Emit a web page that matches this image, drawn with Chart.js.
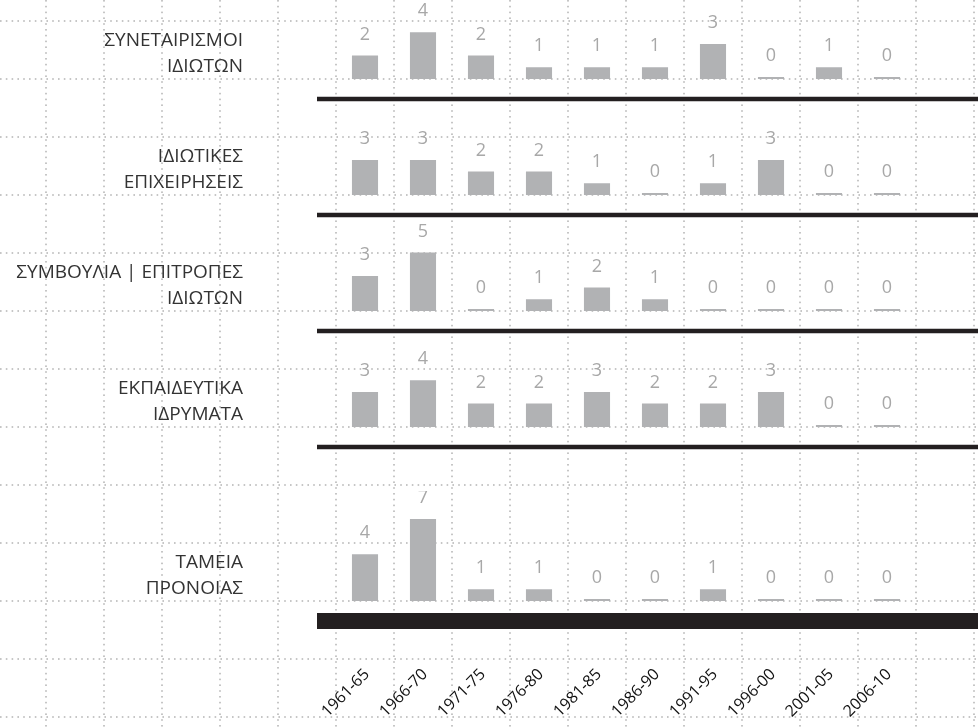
<!DOCTYPE html>
<html>
<head>
<meta charset="utf-8">
<script src="https://cdn.jsdelivr.net/npm/chart.js@4"></script>
<style>
    body { margin: 0; background: #fff; }
    #page { position: relative; width: 978px; height: 727px; overflow: hidden; background: #fff; }
    #page canvas { position: absolute; left: 0; }
</style>
</head>
<body>
<div id="page">
    <canvas id="grid" width="978" height="727" style="top:0"></canvas>
</div>
<script>
// --- Data ---
const periods = ['1961-65', '1966-70', '1971-75', '1976-80', '1981-85', '1986-90', '1991-95', '1996-00', '2001-05', '2006-10'];
const rowLabels = [
    ['ΣΥΝΕΤΑΙΡΙΣΜΟΙ', 'ΙΔΙΩΤΩΝ'],
    ['ΙΔΙΩΤΙΚΕΣ', 'ΕΠΙΧΕΙΡΗΣΕΙΣ'],
    ['ΣΥΜΒΟΥΛΙΑ | ΕΠΙΤΡΟΠΕΣ', 'ΙΔΙΩΤΩΝ'],
    ['ΕΚΠΑΙΔΕΥΤΙΚΑ', 'ΙΔΡΥΜΑΤΑ'],
    ['ΤΑΜΕΙΑ', 'ΠΡΟΝΟΙΑΣ']
];
const cooperatives = [2, 4, 2, 1, 1, 1, 3, 0, 1, 0];
const privateCompanies = [3, 3, 2, 2, 1, 0, 1, 3, 0, 0];
const councils = [3, 5, 0, 1, 2, 1, 0, 0, 0, 0];
const schools = [3, 4, 2, 2, 3, 2, 2, 3, 0, 0];
const pensionFunds = [4, 7, 1, 1, 0, 0, 1, 0, 0, 0];
const rowValues = [cooperatives, privateCompanies, councils, schools, pensionFunds];

// --- Layout ---
const W = 978, H = 727;
const CELL = 58;
const rowBase = [79, 195, 311, 427, 601];   // baseline of each row (px)
const Y_MAX = 8;                             // 8 units ≈ 93.6px
const UNIT = 11.7;
const ABOVE = 110;                           // canvas space above baseline
const FONT = '"Open Sans", "Noto Sans", sans-serif';

// --- Dotted background grid ---
(function drawGrid() {
    const g = document.getElementById('grid').getContext('2d');
    g.fillStyle = '#b9b9b9';
    for (let x = 46; x < W; x += CELL) {
        for (let y = 0; y < H; y += 5.8) g.fillRect(x - 0.8, y, 1.6, 1.6);
    }
    for (let y = 21; y < H; y += CELL) {
        for (let x = 0; x < W; x += 5.8) g.fillRect(x, y - 0.8, 1.6, 1.6);
    }
})();

// --- Plugin: row label, value labels, black rule ---
const rowDecor = {
    id: 'rowDecor',
    afterDatasetsDraw(chart, args, opts) {
        const c = chart.ctx;
        const base = chart.chartArea.bottom;
        c.save();
        // black rule under the row
        c.fillStyle = '#231f20';
        c.fillRect(317, base + 20 - opts.rule / 2, W - 317, opts.rule);
        // row name
        c.fillStyle = '#333';
        c.font = '19px ' + FONT;
        c.textAlign = 'right';
        c.textBaseline = 'middle';
        c.fillText(opts.label[0], 243, base - 38);
        c.fillText(opts.label[1], 243, base - 12);
        // value labels
        c.fillStyle = '#a8a8a8';
        c.font = '18px ' + FONT;
        c.textAlign = 'center';
        const meta = chart.getDatasetMeta(0);
        meta.data.forEach((bar, i) => {
            c.fillText(String(chart.data.datasets[0].data[i]), bar.x, bar.y - 21);
        });
        c.restore();
    }
};

rowValues.forEach((values, r) => {
    const last = r === rowValues.length - 1;
    const cv = document.createElement('canvas');
    const top = rowBase[r] - ABOVE;
    const height = last ? H - top : 140;
    cv.width = W;
    cv.height = height;
    cv.style.top = top + 'px';
    cv.style.width = W + 'px';
    cv.style.height = height + 'px';
    document.getElementById('page').appendChild(cv);

    const xScale = {
        display: last,
        grid: { display: false, drawTicks: false },
        border: { display: false },
        ticks: {
            color: '#111',
            font: { family: FONT, size: 16 },
            minRotation: 45,
            maxRotation: 45,
            padding: 64,
            labelOffset: 2,
            autoSkip: false
        }
    };
    if (last) xScale.afterFit = (scale) => { scale.height = H - rowBase[r]; };

    new Chart(cv, {
        type: 'bar',
        data: {
            labels: periods,
            datasets: [{
                data: values,
                backgroundColor: '#b1b2b4',
                borderWidth: 0,
                categoryPercentage: 1,
                barPercentage: 0.45,
                minBarLength: 2
            }]
        },
        options: {
            responsive: false,
            animation: false,
            layout: {
                padding: {
                    left: 336,
                    right: W - 916,
                    top: ABOVE - Y_MAX * UNIT,
                    bottom: last ? 0 : height - ABOVE
                }
            },
            scales: {
                x: xScale,
                y: { display: false, min: 0, max: Y_MAX }
            },
            plugins: {
                legend: { display: false },
                tooltip: { enabled: false },
                rowDecor: { label: rowLabels[r], rule: last ? 16 : 4.5 }
            }
        },
        plugins: [rowDecor]
    });
});
</script>
</body>
</html>
